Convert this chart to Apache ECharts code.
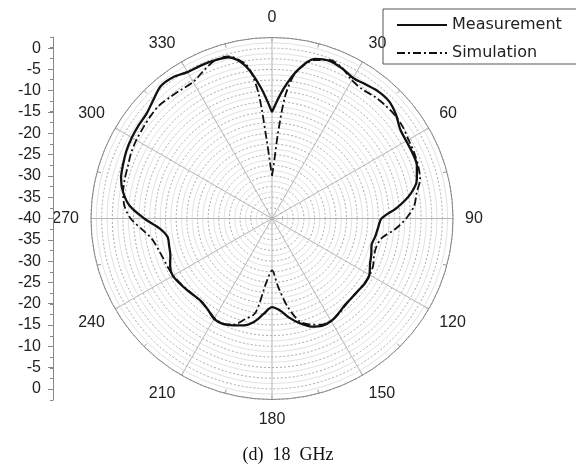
<!DOCTYPE html>
<html><head><meta charset="utf-8">
<script src="https://cdn.jsdelivr.net/npm/echarts@6/dist/echarts.min.js"></script>
<style>html,body{margin:0;padding:0;background:#fff}#c{width:576px;height:467px}</style>
</head><body><div id="c"></div>
<script>
// Angles (degrees, clockwise from top) and gains (dB)
const measAngles = [0,5,10,15,20,25,30,35,40,45,50,55,60,65,70,75,80,85,90,95,100,105,110,115,120,125,130,135,140,145,150,155,160,165,170,175,180,185,190,195,200,205,210,215,220,225,230,235,240,245,250,255,260,265,270,275,280,285,290,295,300,305,310,315,320,325,330,335,340,345,350,355,360];
const measurement = [-15,-9.5,-4.5,-1.2,-0.6,-1.1,-1.9,-1.6,-1.1,-1.1,-2,-3.3,-3.6,-3.6,-3.8,-4.8,-7,-10.5,-14.3,-15,-15.4,-15.8,-15.2,-14.6,-13.6,-13.4,-13.6,-13.6,-13.4,-12.8,-12.2,-12.2,-13,-14.5,-16.3,-18.3,-19.2,-17.5,-15.3,-14,-13.3,-12.7,-12.8,-13.8,-14.4,-14.3,-13.9,-13.5,-13.1,-13.6,-14.6,-15,-15.1,-13.5,-10,-6.5,-4.5,-3.3,-2.8,-2.3,-2,-1.8,-1.6,-0.6,0.6,0.5,-0.3,-0.4,-0.5,-0.8,-3.5,-9,-15];
const simAngles = [0,2,4,6,8,10,15,20,25,30,35,40,45,50,55,60,65,70,75,80,85,90,95,100,105,110,115,120,125,130,135,140,145,150,155,160,165,170,175,180,185,190,195,200,205,210,215,220,225,230,235,240,245,250,255,260,265,270,275,280,285,290,295,300,305,310,315,320,325,330,335,340,345,350,352,354,356,358,360];
const simulation = [-30,-27,-20,-11.5,-7,-4.5,-1.5,-0.4,-1,-2.5,-3,-2.6,-2.4,-2.3,-2.5,-3,-3.2,-3.5,-4,-5.5,-6.5,-8.5,-11,-13.8,-14.6,-14.5,-13.8,-13.5,-13.5,-13.6,-13.6,-13.3,-12.7,-12.2,-12.5,-13.5,-15,-19,-24,-27.8,-25,-17.5,-15.5,-13.5,-12.8,-13,-13.8,-14.3,-14.3,-14,-13.6,-13.2,-13,-12.8,-12.3,-11.5,-9.5,-6.8,-5.2,-4.5,-4.2,-4,-3.5,-3.2,-3,-2.7,-2.5,-2.8,-3,-3,-1.8,-0.6,-0.6,-3,-5.5,-11,-21,-27,-30];
const seriesNames = ['Measurement','Simulation'];
const captionText = '(d)  18  GHz';

const chart = echarts.init(document.getElementById('c'), null, {renderer:'canvas'});
const FONT = 'Liberation Sans, Arial, sans-serif';
chart.setOption({
  animation:false,
  backgroundColor:'#fff',
  color:['#111','#111'],
  title:{text:captionText, left:'center', top:441, textStyle:{fontFamily:'Liberation Serif, Times New Roman, serif', fontSize:18, fontWeight:'normal', color:'#111'}},
  legend:{
    orient:'vertical', left:383, top:9,
    padding:[8,30,3,13], itemGap:12, itemWidth:50, itemHeight:14,
    borderColor:'#555', borderWidth:1,
    itemStyle:{opacity:0},
    textStyle:{fontFamily:'DejaVu Sans, sans-serif', fontSize:16, color:'#222'},
    data:seriesNames
  },
  polar:{center:[272,218.5], radius:181},
  angleAxis:{
    type:'value', min:0, max:360, interval:30, startAngle:90, clockwise:true,
    axisLine:{show:true, lineStyle:{color:'#888', width:1}},
    axisTick:{show:true, inside:true, length:4, lineStyle:{color:'#999'}},
    minorTick:{show:true, splitNumber:2, length:4, lineStyle:{color:'#999'}},
    axisLabel:{fontFamily:FONT, fontSize:16, color:'#222', margin:12},
    splitLine:{show:true, lineStyle:{color:'#b5b5b5', width:1}}
  },
  radiusAxis:{
    type:'value', min:-40, max:2.5, interval:2.5,
    axisLine:{show:false}, axisTick:{show:false}, axisLabel:{show:false},
    splitLine:{show:true, lineStyle:{color:'#a8a8a8', type:[2,2], width:1}},
    minorSplitLine:{show:true, lineStyle:{color:'#e2e2e2', width:1}},
    minorTick:{show:false, splitNumber:2}
  },
  grid:[
    {left:53, width:10, top:37, height:363, show:false},
    {left:53, width:10, top:48.1, height:340.8, show:false}
  ],
  xAxis:[
    {gridIndex:0, type:'value', show:false},
    {gridIndex:1, type:'value', show:false}
  ],
  yAxis:[
    {gridIndex:0, type:'value', min:-42.5, max:42.5, interval:2.5, position:'left',
     axisLine:{show:true, lineStyle:{color:'#888'}},
     axisTick:{show:true, length:3, lineStyle:{color:'#888'}},
     axisLabel:{show:false}, splitLine:{show:false}},
    {gridIndex:1, type:'value', min:-40, max:40, interval:5, position:'left',
     axisLine:{show:false},
     axisTick:{show:true, length:5, lineStyle:{color:'#888'}},
     axisLabel:{fontFamily:FONT, fontSize:16, color:'#222', margin:12,
       formatter:v=>String(Math.abs(v)-40)},
     splitLine:{show:false}}
  ],
  series:[
    {name:seriesNames[0], type:'line', coordinateSystem:'polar', smooth:0.3, showSymbol:false, symbol:'none',
     itemStyle:{color:'#111'},
     lineStyle:{color:'#111', width:2.3},
     data:measAngles.map((a,i)=>[measurement[i], a])},
    {name:seriesNames[1], type:'line', coordinateSystem:'polar', smooth:0.3, showSymbol:false, symbol:'none',
     itemStyle:{color:'#111'},
     lineStyle:{color:'#111', width:1.8, type:[8,3,2,3]},
     data:simAngles.map((a,i)=>[simulation[i], a])}
  ]
});
</script></body></html>
